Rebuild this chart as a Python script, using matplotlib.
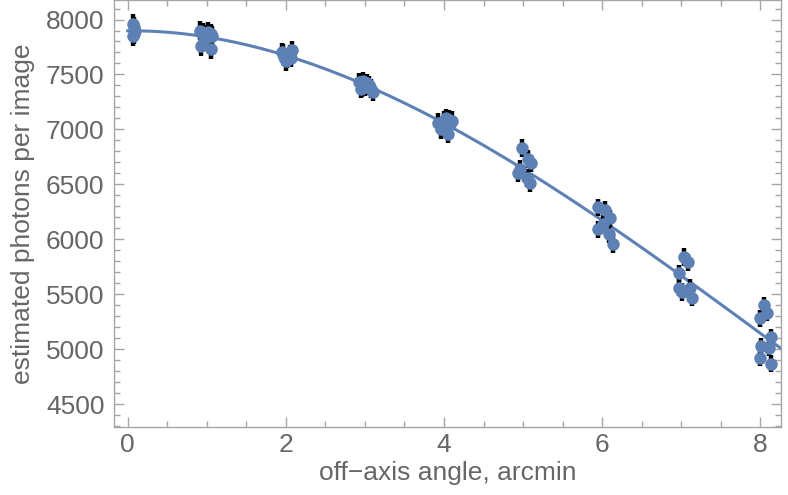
import matplotlib.pyplot as plt
import numpy as np
from matplotlib.ticker import MultipleLocator

# measured points: off-axis angle (arcmin), estimated photons, error
angle = [0.07, 0.08, 0.09, 0.08, 0.07,
         0.92, 0.95, 0.98, 1.02, 1.05, 1.07, 0.93, 1.05, 1.00, 0.97,
         1.95, 1.98, 2.02, 2.05, 2.08, 2.00, 1.96, 2.06,
         2.93, 2.96, 2.98, 3.02, 3.05, 3.08, 3.10, 3.00, 2.95,
         3.93, 3.96, 4.00, 4.03, 4.06, 4.08, 4.05, 3.98, 4.10,
         4.98, 5.06, 5.10, 4.96, 4.94, 5.05, 5.09,
         5.95, 6.04, 6.10, 6.01, 5.95, 6.08, 6.14,
         7.03, 7.08, 6.97, 6.97, 7.01, 7.11, 7.14,
         8.04, 8.09, 7.99, 8.14, 8.01, 8.11, 7.99, 8.14]
photons = [7960, 7930, 7900, 7870, 7850,
           7900, 7880, 7860, 7890, 7870, 7850, 7760, 7730, 7840, 7820,
           7700, 7660, 7640, 7680, 7720, 7620, 7690, 7650,
           7430, 7380, 7440, 7420, 7400, 7370, 7340, 7390, 7370,
           7060, 7000, 7080, 7100, 7090, 7050, 6960, 7030, 7080,
           6830, 6730, 6690, 6640, 6600, 6560, 6510,
           6290, 6270, 6190, 6140, 6090, 6050, 5960,
           5840, 5790, 5690, 5560, 5520, 5560, 5470,
           5400, 5330, 5280, 5110, 5030, 5010, 4920, 4870]
err = [90]*5 + [90]*10 + [85]*8 + [85]*9 + [85]*9 + [80]*7 + [80]*7 + [80]*7 + [75]*8

blue = '#5E81B5'
gray = '#666666'
frame = '#a6a6a6'

plt.rcParams['font.family'] = ['Liberation Sans', 'DejaVu Sans']

fig = plt.figure(figsize=(7.88, 4.95), dpi=100)
ax = fig.add_axes([0.145, 0.137, 0.846, 0.862])

x = np.array(angle)
y = np.array(photons)
e = np.array(err)

# weighted polynomial fit
coef = np.polyfit(x, y, 3, w=1.0/e)
xs = np.linspace(0, 8.3, 300)
ax.plot(xs, np.polyval(coef, xs), color=blue, lw=2.2, zorder=2)

ax.errorbar(x, y, yerr=e, fmt='none', ecolor='black', elinewidth=3.2, capsize=0, zorder=3)
ax.plot(x, y, 'o', color=blue, ms=9, mew=0, zorder=4)

ax.set_xlim(-0.17, 8.26)
ax.set_ylim(4291, 8173)

ax.xaxis.set_major_locator(MultipleLocator(2))
ax.xaxis.set_minor_locator(MultipleLocator(0.5))
ax.yaxis.set_major_locator(MultipleLocator(500))
ax.yaxis.set_minor_locator(MultipleLocator(100))

ax.tick_params(which='both', direction='in', top=True, right=True, color=frame,
               labelcolor=gray, labelsize=19, width=1)
ax.tick_params(which='major', length=7)
ax.tick_params(which='minor', length=4)
ax.tick_params(axis='x', pad=4)
ax.tick_params(axis='y', pad=7)
for s in ax.spines.values():
    s.set_color(frame)
    s.set_linewidth(1)

ax.set_xlabel('off\u2212axis angle, arcmin', color=gray, fontsize=19, labelpad=3)
ax.set_ylabel('estimated photons per image', color=gray, fontsize=19, labelpad=8)

plt.savefig('out.png', dpi=100)
